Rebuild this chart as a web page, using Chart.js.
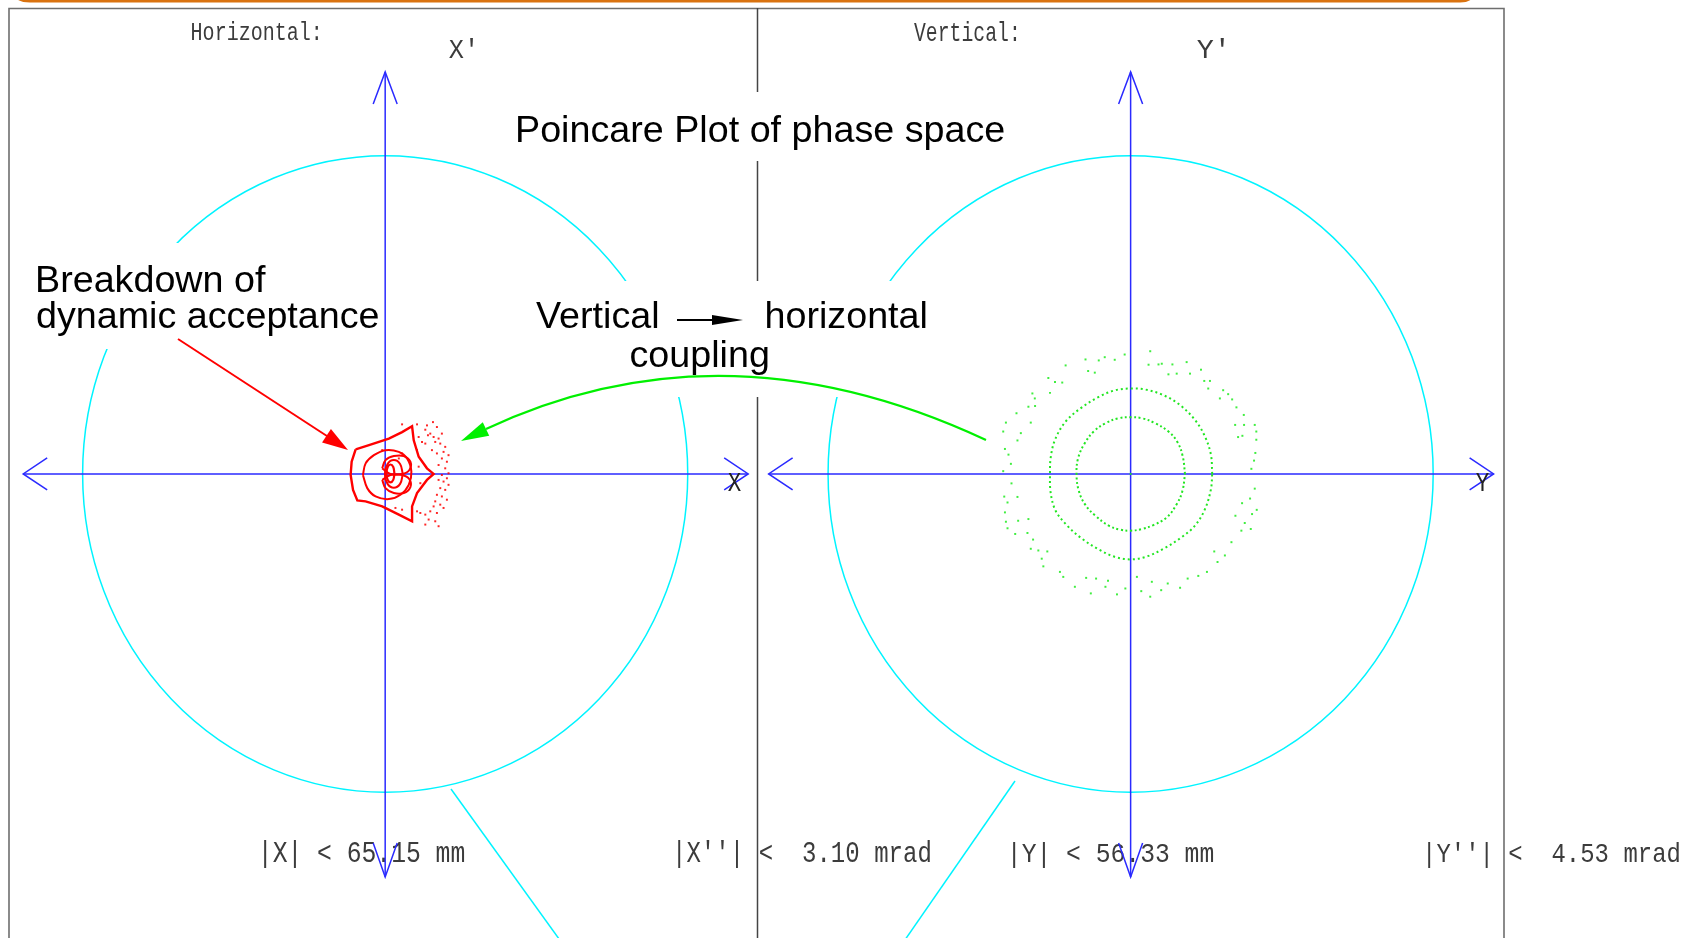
<!DOCTYPE html>
<html><head><meta charset="utf-8">
<script src="https://cdn.jsdelivr.net/npm/chart.js@4.4.1/dist/chart.umd.min.js"></script>
<style>html,body{margin:0;padding:0;background:#fff;overflow:hidden}#wrap{width:1684px;height:938px;position:relative}</style>
</head><body><div id="wrap"><canvas id="c"></canvas></div>
<script>
// ---------------- DATA ----------------
// acceptance limits [position mm, angle mrad]
const acceptanceH = [65.15, 3.10];
const acceptanceV = [56.33, 4.53];
const panelTitles = ['Horizontal:', 'Vertical:'];
const axisNames = ["X'", 'X', "Y'", 'Y'];
const boundLabels = [
  `|X| < ${acceptanceH[0].toFixed(2)} mm`, `|X''| <  ${acceptanceH[1].toFixed(2)} mrad`,
  `|Y| < ${acceptanceV[0].toFixed(2)} mm`, `|Y''| <  ${acceptanceV[1].toFixed(2)} mrad`
];
const chartTitle = 'Poincare Plot of phase space';
const noteBreakdown = ['Breakdown of', 'dynamic acceptance'];
const noteCoupling = ['Vertical', 'horizontal', 'coupling'];

// horizontal phase space (X mm, X' mrad)
const redOuter = [[-6.36,0.239],[-3.49,0.280],[0.79,0.345],[3.64,0.408],[5.79,0.464],[6.15,0.328],[7.22,0.167],[9.00,0.055],[10.44,0.000],[9.00,-0.058],[6.86,-0.186],[5.79,-0.316],[5.79,-0.461],[2.94,-0.396],[-0.64,-0.316],[-4.22,-0.267],[-6.00,-0.258],[-6.92,-0.155],[-7.44,-0.010],[-7.22,0.119],[-6.36,0.239]];
const redMiddle = [[-4.79,-0.010],[-4.21,0.103],[-2.43,0.183],[0.07,0.232],[2.93,0.215],[4.71,0.151],[5.64,0.023],[5.07,-0.106],[3.29,-0.203],[0.79,-0.245],[-2.07,-0.219],[-3.86,-0.138],[-4.79,-0.010]];
const redLobeUpper = [[-0.64,0.055],[0.07,0.135],[1.86,0.174],[4.00,0.174],[5.43,0.119],[5.21,0.039],[3.64,0.000],[1.14,0.000],[-0.64,0.055]];
const redLobeLower = [[-0.64,-0.058],[0.07,-0.138],[1.86,-0.186],[4.00,-0.186],[5.43,-0.128],[5.21,-0.051],[3.64,-0.010],[1.14,-0.010],[-0.64,-0.058]];
const redCore = [[1.99,0.005],[1.74,0.068],[1.14,0.092],[0.54,0.068],[0.28,0.005],[0.54,-0.058],[1.14,-0.082],[1.74,-0.058],[1.99,0.005]];
const redRing = [[3.79,0],[3.21,0.097],[1.86,0.135],[0.51,0.097],[-0.06,0],[0.51,-0.097],[1.86,-0.135],[3.21,-0.097],[3.79,0]];
const redScatter = [[3.64,0.483],[6.86,0.483],[9.00,0.473],[10.29,0.505],[11.14,0.457],[8.64,0.431],[9.71,0.393],[9.21,0.377],[10.43,0.360],[11.50,0.345],[12.21,0.393],[7.21,0.360],[7.93,0.312],[10.78,0.312],[11.86,0.296],[12.93,0.264],[10.07,0.232],[12.57,0.215],[11.14,0.200],[13.64,0.183],[12.21,0.151],[13.29,0.119],[11.50,0.087],[12.93,0.055],[13.64,0.007],[12.21,-0.010],[13.29,-0.042],[11.50,-0.058],[12.57,-0.074],[13.64,-0.106],[11.86,-0.138],[12.93,-0.155],[11.14,-0.203],[12.21,-0.219],[13.29,-0.251],[10.78,-0.267],[11.86,-0.299],[12.57,-0.331],[10.43,-0.316],[9.71,-0.364],[11.14,-0.380],[8.64,-0.396],[7.57,-0.380],[6.86,-0.364],[9.36,-0.444],[10.78,-0.461],[8.64,-0.493],[11.50,-0.509],[3.64,-0.348],[2.21,-0.331],[-0.64,0.232],[3.64,0.200],[2.94,0.151],[7.21,0.071],[7.57,-0.090],[6.86,0.232],[8.64,0.296]];

// vertical phase space (Y mm, Y' mrad)
const greenInner = [[10.13,0.000],[9.70,0.251],[8.71,0.454],[7.04,0.604],[4.57,0.722],[2.10,0.793],[0.00,0.807],[-2.22,0.793],[-4.69,0.722],[-6.86,0.604],[-8.52,0.440],[-9.76,0.228],[-10.07,0.000],[-9.64,-0.242],[-8.40,-0.444],[-6.55,-0.595],[-4.08,-0.736],[-1.92,-0.793],[0.00,-0.807],[2.10,-0.783],[4.26,-0.727],[6.73,-0.618],[8.58,-0.430],[9.64,-0.243],[10.13,0.000]];
const greenMiddle = [[15.19,0.000],[14.95,0.275],[13.84,0.534],[11.98,0.769],[9.20,0.981],[6.11,1.122],[2.72,1.202],[0.00,1.216],[-2.84,1.192],[-5.93,1.098],[-9.33,0.934],[-12.11,0.745],[-14.08,0.487],[-14.89,0.228],[-15.01,0.000],[-14.89,-0.266],[-13.96,-0.524],[-11.80,-0.736],[-9.02,-0.924],[-5.93,-1.075],[-2.84,-1.183],[0.00,-1.216],[2.72,-1.183],[6.11,-1.065],[9.51,-0.900],[11.98,-0.736],[13.84,-0.501],[14.95,-0.219],[15.19,0.000]];
const greenScatter = [[0,0],[-8.40,1.630],[-5.93,1.616],[-4.82,1.662],[-2.96,1.625],[-1.11,1.700],[3.65,1.747],[3.34,1.555],[5.19,1.559],[5.80,1.569],[7.78,1.559],[10.43,1.592],[7.04,1.418],[8.58,1.428],[11.06,1.428],[13.10,1.484],[-12.10,1.545],[-7.91,1.465],[-6.67,1.442],[-15.32,1.366],[-14.08,1.309],[-12.73,1.301],[-15.01,1.154],[-18.29,1.146],[-17.84,1.075],[-19.03,0.957],[-17.79,0.967],[-21.25,0.864],[-18.59,0.731],[-23.22,0.731],[-23.72,0.604],[-20.44,0.581],[-21.07,0.477],[-23.40,0.356],[-22.74,0.275],[-22.29,0.144],[-23.72,0.040],[13.71,1.324],[14.77,1.324],[14.45,1.216],[17.23,1.192],[18.16,1.136],[16.62,1.075],[18.90,1.061],[19.70,0.948],[21.07,0.840],[19.46,0.698],[21.12,0.698],[23.11,0.698],[23.40,0.604],[20.01,0.525],[20.81,0.543],[23.40,0.487],[23.22,0.299],[22.98,0.190],[22.48,0.073],[-22.18,-0.134],[-23.53,-0.322],[-21.07,-0.327],[-22.92,-0.406],[-23.40,-0.547],[-20.94,-0.666],[-23.22,-0.680],[-19.03,-0.642],[-22.92,-0.773],[-21.49,-0.854],[-19.21,-0.840],[-18.16,-0.934],[-18.59,-1.065],[-17.18,-1.089],[-15.51,-1.103],[-16.55,-1.206],[-16.25,-1.315],[-13.16,-1.394],[-12.54,-1.465],[-10.38,-1.606],[-8.28,-1.479],[-6.43,-1.489],[-7.41,-1.700],[-4.69,-1.606],[-4.21,-1.521],[-2.54,-1.714],[-0.98,-1.630],[1.17,-1.465],[1.98,-1.668],[3.65,-1.747],[3.95,-1.535],[5.69,-1.654],[6.91,-1.559],[9.21,-1.620],[10.62,-1.489],[12.60,-1.451],[14.21,-1.394],[16.18,-1.253],[15.57,-1.103],[17.55,-1.160],[18.77,-0.971],[20.62,-0.807],[22.37,-0.783],[21.25,-0.698],[19.51,-0.595],[22.61,-0.571],[23.48,-0.511],[20.75,-0.416],[22.24,-0.350],[23.11,-0.209]];

// ---------------- LAYOUT ----------------
const W = 1684, H = 938;
const LAY = { hOx: 383, vOx: 1132, oy: 474, erx: 304, ery: 321 };
const pts = a => a.map(([x, y]) => ({ x, y }));

function xRange(acc, ox) { const per = acc / LAY.erx; return { min: -ox * per, max: (W - ox) * per }; }
function yRange(acc) { const per = acc / LAY.ery; return { min: -(H - LAY.oy) * per, max: LAY.oy * per }; }

const RED = '#ff0000', BLUE = '#2a2aff', CYAN = '#00f4ff';

function curve(data, color, xa, ya, width, tension, dash) {
  return { data: pts(data), xAxisID: xa, yAxisID: ya, showLine: true, borderColor: color,
    borderWidth: width, pointRadius: 0, tension: tension, borderDash: dash || [], fill: false };
}
function dots(data, color, xa, ya, r) {
  return { data: pts(data), xAxisID: xa, yAxisID: ya, showLine: false, pointRadius: r,
    pointBorderWidth: 0, backgroundColor: color, pointStyle: 'rect' };
}

function monoText(ctx, str, x0, x1, top, base, color) {
  ctx.save();
  ctx.font = '100px "Liberation Mono", "DejaVu Sans Mono", monospace';
  const m = ctx.measureText(str);
  const h = ctx.measureText('H').actualBoundingBoxAscent;
  const inkW = m.actualBoundingBoxLeft + m.actualBoundingBoxRight;
  const sx = (x1 - x0) / inkW, sy = (base - top) / h;
  ctx.translate(x0 + m.actualBoundingBoxLeft * sx, base);
  ctx.scale(sx, sy);
  ctx.fillStyle = color; ctx.textBaseline = 'alphabetic'; ctx.textAlign = 'left';
  ctx.fillText(str, 0, 0);
  ctx.restore();
}
function sansText(ctx, str, x, base, size) {
  ctx.save();
  ctx.font = size + 'px "Liberation Sans", Arial, sans-serif';
  ctx.fillStyle = '#000'; ctx.textBaseline = 'alphabetic'; ctx.textAlign = 'left';
  ctx.fillText(str, x, base);
  ctx.restore();
}
function line(ctx, x1, y1, x2, y2) { ctx.beginPath(); ctx.moveTo(x1, y1); ctx.lineTo(x2, y2); ctx.stroke(); }
function chevron(ctx, tx, ty, dx, dy, len, hw) {
  const bx = tx - dx * len, by = ty - dy * len;
  ctx.beginPath();
  ctx.moveTo(bx - dy * hw, by + dx * hw); ctx.lineTo(tx, ty); ctx.lineTo(bx + dy * hw, by - dx * hw);
  ctx.stroke();
}
function filledArrowHead(ctx, bx, by, tx, ty, hw, color) {
  const L = Math.hypot(tx - bx, ty - by), ux = (tx - bx) / L, uy = (ty - by) / L;
  ctx.fillStyle = color; ctx.beginPath();
  ctx.moveTo(tx, ty); ctx.lineTo(bx - uy * hw, by + ux * hw); ctx.lineTo(bx + uy * hw, by - ux * hw);
  ctx.closePath(); ctx.fill();
}

const deco = {
  id: 'deco',
  beforeDraw(chart) {
    const ctx = chart.ctx;
    ctx.save(); ctx.fillStyle = '#fff'; ctx.fillRect(0, 0, W, H); ctx.restore();
  },
  beforeDatasetsDraw(chart) {
    const ctx = chart.ctx, s = chart.scales;
    ctx.save();
    ctx.strokeStyle = '#d9720f'; ctx.lineWidth = 3;
    ctx.beginPath(); ctx.moveTo(14, -8); ctx.quadraticCurveTo(16, 1, 30, 1); ctx.lineTo(1460, 1); ctx.quadraticCurveTo(1472, 1, 1474, -8); ctx.stroke();
    ctx.strokeStyle = '#6e6e6e'; ctx.lineWidth = 1.6;
    ctx.beginPath(); ctx.moveTo(9, H + 2); ctx.lineTo(9, 8.5); ctx.lineTo(1504, 8.5); ctx.lineTo(1504, H + 2); ctx.stroke();
    ctx.strokeStyle = '#444'; ctx.lineWidth = 1.5;
    line(ctx, 757.5, 8, 757.5, H + 2);
    const panels = [[s.x, s.y, acceptanceH], [s.x2, s.y2, acceptanceV]];
    ctx.strokeStyle = CYAN; ctx.lineWidth = 1.5;
    for (const [sx, sy, acc] of panels) {
      const cx = sx.getPixelForValue(0), cy = sy.getPixelForValue(0);
      const rx = sx.getPixelForValue(acc[0]) - cx, ry = cy - sy.getPixelForValue(acc[1]);
      ctx.beginPath(); ctx.ellipse(cx, cy, rx, ry, 0, 0, Math.PI * 2); ctx.stroke();
    }
    line(ctx, 451, 789, 567, 950);
    line(ctx, 1015, 781, 898, 950);
    ctx.fillStyle = '#fff';
    ctx.fillRect(505, 92, 508, 69);
    ctx.fillRect(28, 243, 353, 106);
    ctx.fillRect(518, 281, 425, 116);
    ctx.restore();

    const tc = '#3c3c3c';
    monoText(ctx, panelTitles[0], 192, 318, 22.5, 40, tc);
    monoText(ctx, panelTitles[1], 914, 1016, 22.5, 40.5, tc);
    monoText(ctx, axisNames[0], 449, 473, 40, 58, tc);
    monoText(ctx, axisNames[2], 1197, 1224, 40, 58, tc);
    monoText(ctx, boundLabels[0], 264, 464, 842, 862, tc);
    monoText(ctx, boundLabels[1], 678, 930, 842, 862, tc);
    monoText(ctx, boundLabels[2], 1013, 1213, 843, 862, tc);
    monoText(ctx, boundLabels[3], 1428, 1679, 843, 862, tc);
    sansText(ctx, chartTitle, 515, 142, 37.7);
    sansText(ctx, noteBreakdown[0], 35, 292, 37.7);
    sansText(ctx, noteBreakdown[1], 36, 328, 37.7);
    sansText(ctx, noteCoupling[0], 536, 328, 37.7);
    sansText(ctx, noteCoupling[1], 764.5, 328, 37.7);
    sansText(ctx, noteCoupling[2], 629.5, 367, 37.7);

    ctx.save();
    ctx.strokeStyle = BLUE; ctx.lineWidth = 1.5;
    for (const [sx, sy] of [[s.x, s.y], [s.x2, s.y2]]) {
      const cx = sx.getPixelForValue(0), cy = sy.getPixelForValue(0);
      line(ctx, cx - 362, cy, cx + 363, cy);
      line(ctx, cx, 72, cx, 877);
      chevron(ctx, cx - 362, cy, -1, 0, 24, 16);
      chevron(ctx, cx + 363, cy, 1, 0, 24, 16);
      chevron(ctx, cx, 72, 0, -1, 32, 12);
      chevron(ctx, cx, 877, 0, 1, 34, 12);
    }
    ctx.restore();
  },
  afterDatasetsDraw(chart) {
    const ctx = chart.ctx;
    ctx.save();
    monoText(ctx, axisNames[1], 728, 741, 472, 491, '#222');
    monoText(ctx, axisNames[3], 1476, 1489, 472, 491, '#222');
    ctx.strokeStyle = RED; ctx.lineWidth = 2;
    line(ctx, 178, 339, 330, 438);
    filledArrowHead(ctx, 326.5, 435.8, 348, 450, 8, RED);
    ctx.strokeStyle = '#00f000'; ctx.lineWidth = 2.2;
    ctx.beginPath(); ctx.moveTo(986, 440); ctx.quadraticCurveTo(724, 317.5, 486, 429); ctx.stroke();
    filledArrowHead(ctx, 486, 429, 461, 441, 7.5, '#00f000');
    ctx.strokeStyle = '#000'; ctx.lineWidth = 2;
    line(ctx, 677, 320, 715, 320);
    filledArrowHead(ctx, 712, 320, 743, 320, 5, '#000');
    ctx.restore();
  }
};

const xh = xRange(acceptanceH[0], LAY.hOx), yh = yRange(acceptanceH[1]);
const xv = xRange(acceptanceV[0], LAY.vOx), yv = yRange(acceptanceV[1]);
const hid = r => ({ type: 'linear', display: false, min: r.min, max: r.max, bounds: 'data', grace: 0 });

new Chart(document.getElementById('c'), {
  type: 'scatter',
  data: { datasets: [
    curve(redOuter, RED, 'x', 'y', 2.4, 0),
    curve(redMiddle, RED, 'x', 'y', 2, 0.35),
    curve(redLobeUpper, RED, 'x', 'y', 2, 0.35),
    curve(redLobeLower, RED, 'x', 'y', 2, 0.35),
    curve(redRing, RED, 'x', 'y', 2, 0.4),
    curve(redCore, RED, 'x', 'y', 2.2, 0.4),
    dots(redScatter, 'rgba(255,0,0,0.85)', 'x', 'y', 1.4),
    curve(greenInner, '#22e622', 'x2', 'y2', 2, 0.4, [2, 2.6]),
    curve(greenMiddle, '#22e622', 'x2', 'y2', 2, 0.35, [2, 3]),
    dots(greenScatter, 'rgba(30,235,30,0.85)', 'x2', 'y2', 1.4)
  ]},
  options: {
    responsive: true, maintainAspectRatio: false, animation: false, devicePixelRatio: 1,
    events: [], layout: { padding: 0 },
    plugins: { legend: { display: false }, tooltip: { enabled: false }, title: { display: false } },
    scales: { x: hid(xh), y: hid(yh), x2: hid(xv), y2: hid(yv) }
  },
  plugins: [deco]
});
</script></body></html>
